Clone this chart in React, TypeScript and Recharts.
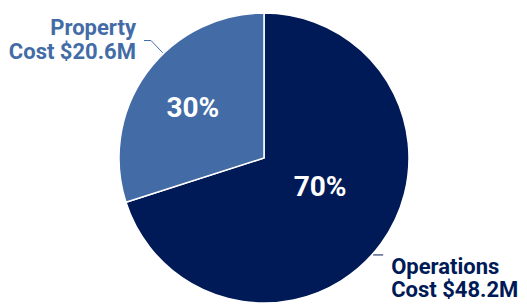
import { PieChart, Pie, Cell } from 'recharts';

const categories = ['Operations', 'Property'];
const costs = [48.2, 20.6];
const colors = ['#001a57', '#436ca6'];

const data = categories.map((name, i) => ({ name, value: costs[i] }));

const RAD = Math.PI / 180;

// per-slice placement tweaks for the inner % and outer callouts
const labelTweaks = [
  { pctShift: 9, pctRadius: 0.435, lineShift: -5.5, elbow: 1, run: 10, side: 1, dy: [19, 42] },
  { pctShift: 1, pctRadius: 0.6, lineShift: -10, elbow: 18, run: 7, side: -1, dy: [-6, 18] },
];

const polar = (cx: number, cy: number, r: number, angle: number) => ({
  x: cx + r * Math.cos(-angle * RAD),
  y: cy + r * Math.sin(-angle * RAD),
});

const renderLabel = (props: any) => {
  const { cx, cy, midAngle, outerRadius, index, percent, name, value } = props;
  const t = labelTweaks[index];
  const color = colors[index];
  const p = polar(cx, cy, outerRadius * t.pctRadius, midAngle + t.pctShift);
  const s = polar(cx, cy, outerRadius + 1, midAngle + t.lineShift);
  const m = polar(cx, cy, outerRadius + t.elbow, midAngle + t.lineShift);
  const ex = m.x + t.side * t.run;
  const tx = ex + t.side * 8;
  const anchor = t.side > 0 ? 'start' : 'end';
  return (
    <g>
      <text
        x={p.x}
        y={p.y}
        fill="#ffffff"
        textAnchor="middle"
        dominantBaseline="central"
        fontSize={28}
        fontWeight={700}
      >
        {`${Math.round(percent * 100)}%`}
      </text>
      <polyline
        points={`${s.x},${s.y} ${m.x},${m.y} ${ex},${m.y}`}
        fill="none"
        stroke={color}
        strokeWidth={1}
      />
      <text x={tx} y={m.y + t.dy[0]} fill={color} textAnchor={anchor} fontSize={22} fontWeight={700}>
        {name}
      </text>
      <text x={tx} y={m.y + t.dy[1]} fill={color} textAnchor={anchor} fontSize={22} fontWeight={700}>
        {`Cost $${value}M`}
      </text>
    </g>
  );
};

export default function App() {
  return (
    <div style={{ position: 'absolute', left: 0, top: 0, width: 527, height: 308, background: '#fff', fontFamily: 'Roboto, sans-serif' }}>
      <PieChart width={527} height={308} margin={{ top: 0, right: 0, bottom: 0, left: 0 }}>
        <Pie
          data={data}
          dataKey="value"
          nameKey="name"
          cx={264}
          cy={158}
          outerRadius={145}
          startAngle={90}
          endAngle={-270}
          stroke="#ffffff"
          strokeWidth={1.5}
          label={renderLabel}
          labelLine={false}
          isAnimationActive={false}
        >
          {data.map((d, i) => (
            <Cell key={d.name} fill={colors[i]} />
          ))}
        </Pie>
      </PieChart>
    </div>
  );
}
